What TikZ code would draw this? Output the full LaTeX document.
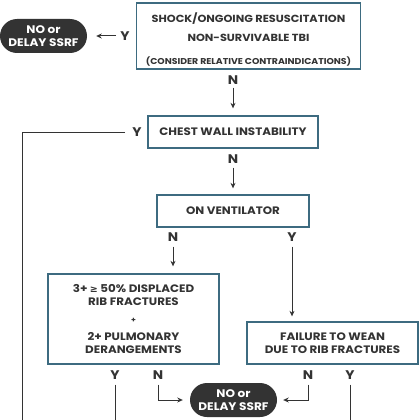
\documentclass[tikz,border=0pt]{standalone}
\usepackage{fontspec}
\setmainfont{Poppins}[FakeStretch=1.1]
\newfontfamily\dejavu{DejaVu Sans}
\usetikzlibrary{arrows.meta}
\definecolor{boxc}{HTML}{3D6B80}
\definecolor{ink}{HTML}{333333}
\tikzset{
  qbox/.style={draw=boxc, line width=1.3pt, fill=white, text=ink, align=center, font=\bfseries\fontsize{10.8}{13}\selectfont, inner sep=0pt},
  pill/.style={fill=ink, text=white, rounded corners=17pt, minimum width=87pt, minimum height=34pt, align=center, font=\bfseries\fontsize{11}{13}\selectfont, inner sep=0pt},
  yn/.style={text=ink, font=\bfseries\fontsize{12.5}{13}\selectfont, inner sep=0pt},
  conn/.style={draw=ink, line width=1pt},
  arr/.style={conn, -{Stealth[length=5.5pt,width=5pt]}}
}
\begin{document}
\begin{tikzpicture}[x=1pt,y=-1pt]
\useasboundingbox (0,0) rectangle (420,420);
% boxes
\node[qbox, minimum width=224pt, minimum height=66pt, font=\bfseries\fontsize{10.3}{19}\selectfont] (top) at (248.5,36) {\rule{0pt}{17pt}SHOCK/ONGOING RESUSCITATION\\NON-SURVIVABLE TBI\\[4pt]{\fontsize{8.5}{9}\selectfont(CONSIDER RELATIVE CONTRAINDICATIONS)}};
\node[pill] (pillA) at (43.5,36) {NO or\\DELAY SSRF};
\node[qbox, minimum width=170pt, minimum height=32pt] (chest) at (233,132) {CHEST WALL INSTABILITY};
\node[qbox, minimum width=152pt, minimum height=32pt] (vent) at (233,211) {ON VENTILATOR};
\node[qbox, minimum width=171pt, minimum height=90pt] (ribs) at (133.5,319) {3+ {\dejavu\fontsize{9.5}{13}\selectfont≥} 50\% DISPLACED\\RIB FRACTURES\\[4pt]{\fontsize{7}{8}\selectfont +}\\[5pt]2+ PULMONARY\\DERANGEMENTS};
\node[qbox, minimum width=171pt, minimum height=42pt] (wean) at (332.5,343) {FAILURE TO WEAN\\DUE TO RIB FRACTURES};
\node[pill] (pillB) at (233.5,400) {NO or\\DELAY SSRF};
% labels
\node[yn] (y1) at (125,36) {Y};
\node[yn] (n1) at (233,80) {N};
\node[yn] (y2) at (137,132) {Y};
\node[yn] (n2) at (233,159) {N};
\node[yn] (n3) at (173,237) {N};
\node[yn] (y3) at (292,237) {Y};
\node[yn] (y4) at (115,375) {Y};
\node[yn] (n4) at (158,375) {N};
\node[yn] (n5) at (308,375) {N};
\node[yn] (y5) at (350,375) {Y};
\coordinate (endL) at (22,420);
\coordinate (endY4) at (115,420);
\coordinate (endY5) at (350,420);
% connectors
\draw[arr, shorten <=4pt, shorten >=9pt] (y1.west) -- (pillA.east);
\draw[arr, shorten <=3pt, shorten >=7pt] (n1.south) -- (chest.north);
\draw[conn, shorten <=7pt] (y2.west) -| (endL);
\draw[arr, shorten <=4pt, shorten >=6pt] (n2.south) -- (vent.north);
\draw[arr, shorten <=5pt, shorten >=7pt] (n3.south) -- (ribs.north -| n3);
\draw[arr, shorten <=5pt, shorten >=5pt] (y3.south) -- (wean.north -| y3);
\draw[conn, shorten <=5pt] (y4.south) -- (endY4);
\draw[arr, shorten <=5pt, shorten >=7pt] (n4.south) |- (pillB.west);
\draw[arr, shorten <=5pt, shorten >=6pt] (n5.south) |- (pillB.east);
\draw[conn, shorten <=5pt] (y5.south) -- (endY5);
\end{tikzpicture}
\end{document}
